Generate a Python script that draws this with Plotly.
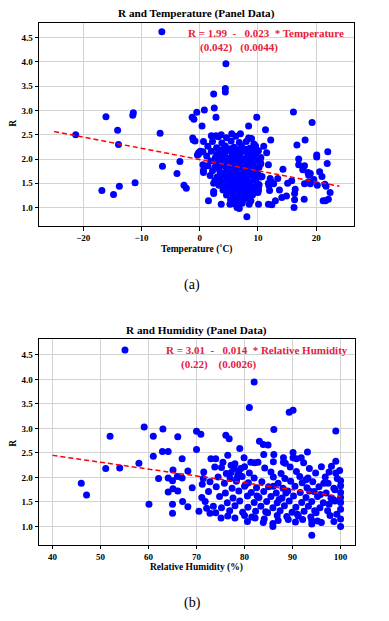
import plotly.graph_objects as go

# ---------------- Panel (a): R vs Temperature ----------------
temp_x = [
    -6.5, -16.1, -11.4, -11.5, -14.1, -21.3, -13.95, -6.8, -1.3, -1.0, -1.2, -1.1, -0.2, -3.4, -6.4,
    -3.9, -11.1, -13.8, -16.8, -14.8, -2.7, -2.3,
    4.5, 4.4, 4.4, 2.4, 0.8, -0.5, 2.5, 2.8, 9.8, 16.1, 0.4, 8.4, 19.3, 11.3, 12.2, 16.7, 18.1,
    11.0, 11.5, 20.1, 20.1, 22.0, 21.9, 20.6, 17.0, 17.0, 18.0, 17.7, 18.7, 19.6, 21.0, 21.7,
    20.2, 19.0, 18.0, 15.8, 16.4, 16.3, 16.2, 17.95, 22.4, 22.1, 21.6, 21.2, 14.3, 15.1, 14.1,
    14.9, 13.7, 13.0, 12.0, 11.8, 13.4, 12.3, 12.7, 11.8, 11.8, 10.4, 10.1, 10.1, 10.7, 10.1,
    8.1, 6.8, 6.4, 5.2, 3.7, 1.5, 2.4, 2.4, 2.4, 0.65, 0.65, 0.55, 0.65, -0.2, -0.4, 0.55,
    2.0, 2.8, 3.7, 5.5, 7.0, 8.4, 18.6, 19.0, 21.5, 18.7, 16.3, 12.4, 11.9, 12.1, -0.8, 0.1,
    3.2, 4.6, 6.2, 8.9,
    2.2, 3.8, 5.4, 6.8, 8.0, 9.3,
    1.4, 2.9, 4.4, 5.9, 7.2, 8.6, 9.6,
    2.0, 3.5, 5.0, 6.3, 7.6, 9.0, 10.1,
    1.2, 2.7, 4.1, 5.5, 6.7, 8.0, 9.3, 10.5,
    1.9, 3.2, 4.7, 6.0, 7.2, 8.5, 9.7,
    1.4, 2.6, 3.9, 5.3, 6.5, 7.7, 8.9, 10.2,
    2.2, 3.5, 4.8, 6.0, 7.1, 8.3, 9.5,
    1.8, 3.0, 4.3, 5.5, 6.6, 7.8, 9.0, 10.5,
    2.6, 3.8, 5.0, 6.2, 7.3, 8.5, 9.6,
    3.3, 4.5, 5.7, 6.8, 7.9, 9.1, 10.2,
    4.0, 5.2, 6.3, 7.4, 8.6, 9.6,
    4.6, 5.8, 6.9, 8.0, 9.1,
    5.3, 6.5, 7.6, 8.8,
    6.0, 7.3, 8.5,
    4.0, 5.3, 6.6, 7.9, 9.2,
    3.0, 4.3, 5.6, 6.9, 8.3, 9.6,
    3.7, 5.0, 6.2, 7.5, 8.8,
    2.9, 4.2, 5.5, 6.8, 8.0, 9.2, 10.5,
    3.3, 4.6, 5.9, 7.1, 8.4, 9.8,
    4.0, 5.2, 6.4, 7.6, 8.8, 10.0,
    3.5, 4.7, 5.9, 7.0, 8.1, 9.3,
    4.0, 5.2, 6.3, 7.5, 8.7, 9.9,
    4.8, 5.9, 7.1, 8.2, 9.3,
    5.6, 6.8, 7.9, 9.0, 10.0,
    6.2, 7.3, 8.4,
]
temp_r = [
    4.62, 2.87, 2.95, 2.90, 2.59, 2.50, 2.30, 2.53, 2.86, 2.82, 2.43, 2.39, 2.10, 1.95, 1.85,
    1.70, 1.51, 1.44, 1.35, 1.27, 1.46, 1.40,
    3.96, 3.45, 3.38, 3.34, 3.01, 2.96, 3.05, 2.86, 2.86, 2.97, 2.68, 2.68, 2.75, 2.60, 2.39, 2.29, 2.39,
    2.26, 2.13, 2.08, 2.04, 2.15, 1.91, 1.74, 2.00, 1.88, 1.86, 1.78, 1.67, 1.58, 1.64, 1.44,
    1.46, 1.49, 1.49, 1.55, 1.38, 1.29, 1.00, 1.17, 1.31, 1.17, 1.14, 1.14, 1.79, 1.50, 1.21,
    1.24, 1.36, 1.14, 1.35, 1.07, 1.60, 1.53, 1.49, 1.50, 1.88, 1.95, 1.36, 1.07, 1.64, 1.43,
    0.81, 0.98, 1.00, 1.07, 1.07, 1.14, 1.33, 1.29, 1.50, 1.72, 1.77, 1.88, 2.36, 2.13, 2.08, 2.15,
    2.48, 2.48, 2.50, 2.52, 2.52, 2.43, 1.72, 1.70, 1.48, 1.53, 1.16, 1.06, 1.45, 1.60, 2.37, 2.16,
    2.46, 2.44, 2.47, 2.42,
    2.36, 2.33, 2.37, 2.34, 2.36, 2.31,
    2.26, 2.23, 2.27, 2.24, 2.26, 2.22, 2.27,
    2.16, 2.13, 2.17, 2.14, 2.16, 2.12, 2.17,
    2.06, 2.03, 2.07, 2.04, 2.06, 2.02, 2.07, 2.03,
    1.96, 1.93, 1.97, 1.94, 1.96, 1.92, 1.97,
    1.86, 1.83, 1.87, 1.84, 1.86, 1.82, 1.87, 1.83,
    1.76, 1.73, 1.77, 1.74, 1.76, 1.72, 1.77,
    1.66, 1.63, 1.67, 1.64, 1.66, 1.62, 1.67, 1.63,
    1.56, 1.53, 1.57, 1.54, 1.56, 1.52, 1.57,
    1.46, 1.43, 1.47, 1.44, 1.46, 1.42, 1.47,
    1.36, 1.33, 1.37, 1.34, 1.36, 1.32,
    1.26, 1.23, 1.27, 1.24, 1.26,
    1.16, 1.13, 1.17, 1.14,
    1.08, 1.09, 1.07,
    2.20, 2.21, 2.19, 2.20, 2.21,
    2.10, 2.09, 2.11, 2.10, 2.09, 2.11,
    2.00, 2.01, 1.99, 2.00, 2.01,
    1.90, 1.91, 1.89, 1.90, 1.91, 1.89, 1.90,
    1.80, 1.81, 1.79, 1.80, 1.81, 1.79,
    1.70, 1.71, 1.69, 1.70, 1.71, 1.69,
    1.60, 1.61, 1.59, 1.60, 1.61, 1.59,
    1.50, 1.51, 1.49, 1.50, 1.51, 1.49,
    1.40, 1.41, 1.39, 1.40, 1.41,
    1.30, 1.31, 1.29, 1.30, 1.31,
    1.20, 1.21, 1.19,
]
temp_fit_x = [-25, 24]
temp_coef = [1.99, -0.023]

# ---------------- Panel (b): R vs Relative Humidity ----------------
hum_x = [
    55.1, 52.0, 59.1, 63.0, 61.0, 66.1, 70.0, 70.9, 70.0, 62.9, 64.1, 61.0, 67.0, 58.0, 51.1, 54.0,
    65.1, 68.2, 62.1, 64.1, 65.0, 66.0, 67.0, 69.1, 64.1, 65.1, 66.1, 46.0, 47.1, 60.1, 65.0, 67.1,
    68.2, 65.0,
    82.0, 81.0, 76.1, 76.8, 86.1, 79.0, 83.1, 83.9, 84.9, 86.1, 84.0, 76.5, 79.9, 73.0, 74.0, 81.3,
    82.1, 82.8, 75.2, 77.2, 89.3, 90.1, 99.0, 93.1, 90.1, 90.1, 90.8, 91.8, 88.1, 88.1, 99.0, 98.1,
    99.8, 99.0, 100.0, 100.0, 100.0, 100.0, 100.0, 100.0, 100.0, 100.0, 94.0,
    71.1, 71.4, 71.2, 72.1, 72.8, 75.1, 78.0, 80.0, 82.2, 83.9, 84.1, 85.9, 85.9, 89.1, 92.1, 94.0,
    94.0, 96.0,
    75.5, 78.0, 86.0, 88.5, 92.3,
    73.8, 77.8, 80.0, 84.2, 89.5, 93.5, 96.0,
    71.5, 76.2, 78.8, 81.0, 85.5, 87.6, 90.8, 94.8, 97.6,
    74.5, 77.0, 79.5, 82.0, 86.0, 88.4, 91.5, 93.2, 96.8, 99.3,
    72.8, 75.8, 78.3, 80.8, 83.6, 87.0, 89.6, 92.0, 94.2, 97.4,
    74.1, 77.4, 80.0, 82.5, 85.0, 88.0, 90.5, 93.0, 95.5, 98.6,
    72.5, 76.0, 78.8, 81.4, 84.0, 86.6, 89.0, 91.6, 94.5, 97.0,
    74.8, 77.6, 80.6, 83.0, 85.5, 87.8, 90.2, 92.8, 95.2, 98.0,
    71.8, 76.4, 79.0, 82.0, 84.6, 86.8, 89.3, 91.9, 94.0, 96.4, 98.8,
    73.5, 75.2, 78.0, 80.7, 83.4, 85.9, 88.3, 90.7, 93.3, 95.7,
    70.5, 74.0, 76.9, 79.6, 82.3, 84.8, 87.4, 89.9, 92.4, 94.9, 97.3,
    76.5, 81.5, 86.8, 88.8, 91.2, 93.8, 97.8,
    80.6, 87.0, 90.6, 95.2, 98.6,
    98.5, 98.8, 97.6, 99.2, 96.5, 95.8, 94.6, 93.5, 92.8, 91.0, 88.6, 87.2, 86.0, 84.4, 82.6,
    80.2, 78.4, 77.2, 78.6, 79.2,
]
hum_r = [
    4.60, 2.84, 3.03, 2.99, 2.84, 2.83, 2.94, 2.88, 2.57, 2.53, 2.53, 2.43, 2.38, 2.29, 2.18, 2.19,
    2.15, 2.13, 1.98, 1.99, 1.93, 2.02, 1.99, 1.79, 1.70, 1.77, 1.72, 1.88, 1.64, 1.45, 1.45, 1.51,
    1.40, 1.27,
    3.95, 3.43, 2.86, 2.79, 2.98, 2.59, 2.74, 2.67, 2.66, 2.47, 2.47, 2.45, 2.40, 2.38, 2.38, 2.31,
    2.30, 2.31, 2.20, 2.25, 3.33, 3.37, 2.95, 2.52, 2.51, 2.40, 2.38, 2.40, 2.40, 2.31, 2.33, 2.23,
    2.14, 2.09, 1.93, 1.83, 1.69, 1.59, 1.49, 1.35, 1.15, 1.00, 0.82,
    1.59, 1.98, 1.86, 1.37, 1.27, 1.17, 1.17, 1.22, 1.17, 1.08, 1.15, 1.00, 1.06, 1.14, 1.14, 1.12,
    1.05, 1.08,
    2.31, 2.28, 2.32, 2.29, 2.30,
    2.21, 2.18, 2.22, 2.19, 2.21, 2.18, 2.22,
    2.11, 2.08, 2.12, 2.09, 2.11, 2.08, 2.12, 2.09, 2.11,
    2.01, 1.98, 2.02, 1.99, 2.01, 1.98, 2.02, 1.99, 2.01, 1.98,
    1.91, 1.88, 1.92, 1.89, 1.91, 1.88, 1.92, 1.89, 1.91, 1.88,
    1.81, 1.78, 1.82, 1.79, 1.81, 1.78, 1.82, 1.79, 1.81, 1.78,
    1.71, 1.68, 1.72, 1.69, 1.71, 1.68, 1.72, 1.69, 1.71, 1.68,
    1.61, 1.58, 1.62, 1.59, 1.61, 1.58, 1.62, 1.59, 1.61, 1.58,
    1.51, 1.48, 1.52, 1.49, 1.51, 1.48, 1.52, 1.49, 1.51, 1.48, 1.52,
    1.41, 1.38, 1.42, 1.39, 1.41, 1.38, 1.42, 1.39, 1.41, 1.38,
    1.31, 1.28, 1.32, 1.29, 1.31, 1.28, 1.32, 1.29, 1.31, 1.28, 1.32,
    1.21, 1.19, 1.22, 1.20, 1.21, 1.19, 1.22,
    1.10, 1.12, 1.09, 1.11, 1.10,
    1.55, 1.75, 1.45, 1.25, 1.88, 1.65, 1.32, 1.72, 1.95, 1.25, 1.68, 1.55, 1.82, 1.30, 1.62,
    1.85, 1.98, 2.10, 2.05, 2.18,
]
hum_fit_x = [40, 100]
hum_coef = [3.01, -0.014]

# tick settings
temp_ticks = [-20, -10, 0, 10, 20]
hum_ticks = [40, 50, 60, 70, 80, 90, 100]
r_ticks = [1.0, 1.5, 2.0, 2.5, 3.0, 3.5, 4.0, 4.5]
r_ticklabels = ["1.0", "1.5", "2.0", "2.5", "3.0", "3.5", "4.0", "4.5"]

SERIF = "Liberation Serif"
fig = go.Figure()

marker = dict(color="#0000FF", size=7, line=dict(width=0))
fig.add_trace(go.Scatter(x=temp_x, y=temp_r, mode="markers", marker=marker,
                         xaxis="x", yaxis="y", showlegend=False))
fig.add_trace(go.Scatter(x=temp_fit_x, y=[temp_coef[0] + temp_coef[1] * v for v in temp_fit_x],
                         mode="lines", line=dict(color="#FF0000", width=1.5, dash="5px,3px"),
                         xaxis="x", yaxis="y", showlegend=False))
fig.add_trace(go.Scatter(x=hum_x, y=hum_r, mode="markers", marker=marker,
                         xaxis="x2", yaxis="y2", showlegend=False))
fig.add_trace(go.Scatter(x=hum_fit_x, y=[hum_coef[0] + hum_coef[1] * v for v in hum_fit_x],
                         mode="lines", line=dict(color="#FF0000", width=1.5, dash="5px,3px"),
                         xaxis="x2", yaxis="y2", showlegend=False))

tickfont = dict(family=SERIF, size=9, color="black", weight="bold")
common = dict(showgrid=True, gridcolor="#d3d3d3", gridwidth=1, showline=True, mirror=True,
              linecolor="black", linewidth=1, ticks="outside", ticklen=3.5, tickcolor="black",
              tickwidth=1, tickfont=tickfont, zeroline=False)

fig.update_layout(
    width=389, height=621,
    margin=dict(l=0, r=0, t=0, b=0),
    paper_bgcolor="white", plot_bgcolor="white",
    hovermode=False,
    xaxis=dict(domain=[0.1003, 0.910], range=[-27.6, 26.5], tickvals=temp_ticks,
               ticktext=["\u221220", "\u221210", "0", "10", "20"], anchor="y", **common),
    yaxis=dict(domain=[0.636, 0.963], range=[0.62, 4.80], tickvals=r_ticks,
               ticktext=r_ticklabels, anchor="x", **common),
    xaxis2=dict(domain=[0.1003, 0.9126], range=[37.2, 103.0], tickvals=hum_ticks,
                ticktext=[str(v) for v in hum_ticks], anchor="y2", **common),
    yaxis2=dict(domain=[0.1224, 0.4536], range=[0.62, 4.82], tickvals=r_ticks,
                ticktext=r_ticklabels, anchor="x2", **common),
)

NB = "\u00a0"
def ann(text, x, y, size, color="black", bold=True, angle=0):
    fig.add_annotation(text=text, x=x, y=y, xref="paper", yref="paper", showarrow=False,
                       xanchor="center", yanchor="middle", textangle=angle,
                       font=dict(family=SERIF, size=size, color=color,
                                 weight="bold" if bold else "normal"))

ann("R and Temperature (Panel Data)", 0.505, 0.979, 11.2)
ann("R", 0.0326, 0.802, 9.5, angle=-90)
ann("Temperature (\u02daC)", 0.506, 0.599, 9.5)
ann("(a)", 0.4936, 0.541, 14, bold=False)
ann("R and Humidity (Panel Data)", 0.505, 0.4675, 11.2)
ann("R", 0.0326, 0.2866, 9.5, angle=-90)
ann("Relative Humidity (%)", 0.506, 0.0858, 9.5)
ann("(b)", 0.4936, 0.029, 14, bold=False)

RED = "#E8203C"
ann(f"R = 1.99{NB*2}-{NB*3}0.023{NB*2}* Temperature", 0.6838, 0.9469, 11, color=RED)
ann(f"(0.042){NB*3}(0.0044)", 0.614, 0.9243, 11, color=RED)
ann(f"R = 3.01{NB*2}-{NB*3}0.014{NB*2}* Relative Humidity", 0.6607, 0.4364, 11, color=RED)
ann(f"(0.22){NB*4}(0.0026)", 0.5613, 0.4138, 11, color=RED)

fig.write_html("out.html", config={"displayModeBar": False},
               post_script="document.body.style.margin='0px';")
